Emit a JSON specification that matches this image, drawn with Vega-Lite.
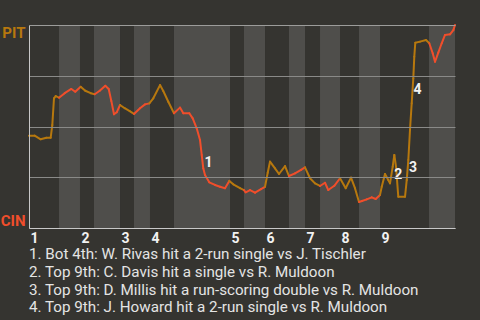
{
  "$schema": "https://vega.github.io/schema/vega-lite/v6.json",
  "width": 426,
  "height": 203,
  "autosize": {"type": "none"},
  "padding": {"left": 29, "top": 25, "right": 25, "bottom": 92},
  "background": "#353430",
  "config": {"view": {"stroke": null}, "font": "Roboto"},
  "title": {
    "text": [
      "1. Bot 4th: W. Rivas hit a 2-run single vs J. Tischler",
      "2. Top 9th: C. Davis hit a single vs R. Muldoon",
      "3. Top 9th: D. Millis hit a run-scoring double vs R. Muldoon",
      "4. Top 9th: J. Howard hit a 2-run single vs R. Muldoon"
    ],
    "orient": "bottom",
    "anchor": "start",
    "frame": "group",
    "align": "left",
    "font": "Roboto",
    "fontSize": 15.2,
    "fontWeight": "normal",
    "color": "#e4e4e4",
    "lineHeight": 17.8,
    "offset": 2
  },
  "layer": [
    {
      "data": {
        "values": [
          {"start": 6.34, "end": 10.77},
          {"start": 13.73, "end": 19.23},
          {"start": 22.18, "end": 25.56},
          {"start": 30.63, "end": 42.47},
          {"start": 45.42, "end": 49.86},
          {"start": 54.93, "end": 58.31},
          {"start": 61.48, "end": 65.71},
          {"start": 69.72, "end": 74.16},
          {"start": 84.51, "end": 90}
        ]
      },
      "mark": {"type": "rect", "color": "#4f4e4b"},
      "encoding": {
        "x": {
          "field": "start",
          "type": "quantitative",
          "scale": {"domain": [0, 90], "nice": false, "zero": false},
          "axis": {
            "title": null,
            "values": [0, 10.77, 19.23, 25.56, 42.47, 49.86, 58.31, 65.71, 74.16],
            "labelExpr": "indexof([0, 10.77, 19.23, 25.56, 42.47, 49.86, 58.31, 65.71, 74.16], datum.value) + 1",
            "labelAlign": "left",
            "labelBaseline": "top",
            "labelFlush": false,
            "labelOffset": 1,
            "labelPadding": 3,
            "labelColor": "#f2f2f2",
            "labelFont": "Roboto",
            "labelFontSize": 14,
            "labelFontWeight": "bold",
            "ticks": false,
            "grid": false,
            "domainColor": "#c8c8c8",
            "domainWidth": 1,
            "zindex": 1
          }
        },
        "x2": {"field": "end"}
      }
    },
    {
      "data": {
        "values": [
          {"x": 0.0, "p": 0.455, "t": "PIT"},
          {"x": 1.2, "p": 0.455, "t": "PIT"},
          {"x": 2.47, "p": 0.437, "t": "PIT"},
          {"x": 3.66, "p": 0.445, "t": "PIT"},
          {"x": 4.58, "p": 0.445, "t": "PIT"},
          {"x": 4.92, "p": 0.507, "t": "PIT"},
          {"x": 5.28, "p": 0.639, "t": "PIT"},
          {"x": 5.64, "p": 0.65, "t": "PIT"},
          {"x": 6.34, "p": 0.642, "t": "PIT"},
          {"x": 7.54, "p": 0.664, "t": "CIN"},
          {"x": 8.94, "p": 0.685, "t": "CIN"},
          {"x": 9.78, "p": 0.671, "t": "CIN"},
          {"x": 10.92, "p": 0.696, "t": "CIN"},
          {"x": 11.89, "p": 0.676, "t": "PIT"},
          {"x": 13.04, "p": 0.664, "t": "PIT"},
          {"x": 13.88, "p": 0.659, "t": "PIT"},
          {"x": 14.94, "p": 0.676, "t": "CIN"},
          {"x": 16.12, "p": 0.701, "t": "CIN"},
          {"x": 16.84, "p": 0.685, "t": "CIN"},
          {"x": 17.39, "p": 0.626, "t": "CIN"},
          {"x": 17.96, "p": 0.56, "t": "CIN"},
          {"x": 18.53, "p": 0.57, "t": "CIN"},
          {"x": 19.23, "p": 0.606, "t": "CIN"},
          {"x": 20.22, "p": 0.59, "t": "PIT"},
          {"x": 21.27, "p": 0.576, "t": "PIT"},
          {"x": 22.18, "p": 0.562, "t": "PIT"},
          {"x": 23.45, "p": 0.59, "t": "CIN"},
          {"x": 24.51, "p": 0.609, "t": "CIN"},
          {"x": 25.42, "p": 0.614, "t": "CIN"},
          {"x": 26.26, "p": 0.639, "t": "PIT"},
          {"x": 27.68, "p": 0.704, "t": "PIT"},
          {"x": 28.37, "p": 0.675, "t": "PIT"},
          {"x": 29.43, "p": 0.622, "t": "PIT"},
          {"x": 30.63, "p": 0.565, "t": "PIT"},
          {"x": 31.9, "p": 0.593, "t": "CIN"},
          {"x": 32.6, "p": 0.565, "t": "CIN"},
          {"x": 33.87, "p": 0.565, "t": "CIN"},
          {"x": 34.59, "p": 0.54, "t": "CIN"},
          {"x": 35.43, "p": 0.491, "t": "CIN"},
          {"x": 36.13, "p": 0.433, "t": "CIN"},
          {"x": 36.49, "p": 0.36, "t": "CIN"},
          {"x": 36.82, "p": 0.294, "t": "CIN"},
          {"x": 37.18, "p": 0.261, "t": "CIN"},
          {"x": 38.09, "p": 0.225, "t": "CIN"},
          {"x": 39.3, "p": 0.212, "t": "CIN"},
          {"x": 40.35, "p": 0.203, "t": "CIN"},
          {"x": 41.41, "p": 0.196, "t": "CIN"},
          {"x": 42.32, "p": 0.232, "t": "CIN"},
          {"x": 43.16, "p": 0.215, "t": "PIT"},
          {"x": 44.58, "p": 0.196, "t": "PIT"},
          {"x": 45.42, "p": 0.187, "t": "PIT"},
          {"x": 45.78, "p": 0.176, "t": "CIN"},
          {"x": 46.69, "p": 0.187, "t": "CIN"},
          {"x": 47.75, "p": 0.174, "t": "CIN"},
          {"x": 49.01, "p": 0.191, "t": "CIN"},
          {"x": 49.86, "p": 0.203, "t": "CIN"},
          {"x": 50.43, "p": 0.272, "t": "PIT"},
          {"x": 50.92, "p": 0.327, "t": "PIT"},
          {"x": 51.97, "p": 0.294, "t": "PIT"},
          {"x": 52.82, "p": 0.266, "t": "PIT"},
          {"x": 54.09, "p": 0.305, "t": "PIT"},
          {"x": 54.93, "p": 0.256, "t": "PIT"},
          {"x": 56.2, "p": 0.269, "t": "CIN"},
          {"x": 57.47, "p": 0.286, "t": "CIN"},
          {"x": 58.31, "p": 0.299, "t": "CIN"},
          {"x": 59.37, "p": 0.245, "t": "PIT"},
          {"x": 60.42, "p": 0.22, "t": "PIT"},
          {"x": 61.48, "p": 0.207, "t": "PIT"},
          {"x": 62.54, "p": 0.223, "t": "CIN"},
          {"x": 63.23, "p": 0.187, "t": "CIN"},
          {"x": 64.5, "p": 0.208, "t": "CIN"},
          {"x": 65.71, "p": 0.245, "t": "CIN"},
          {"x": 66.91, "p": 0.196, "t": "PIT"},
          {"x": 68.03, "p": 0.248, "t": "PIT"},
          {"x": 68.87, "p": 0.196, "t": "PIT"},
          {"x": 69.72, "p": 0.128, "t": "PIT"},
          {"x": 70.35, "p": 0.133, "t": "CIN"},
          {"x": 71.35, "p": 0.141, "t": "CIN"},
          {"x": 72.4, "p": 0.151, "t": "CIN"},
          {"x": 73.25, "p": 0.143, "t": "CIN"},
          {"x": 74.16, "p": 0.163, "t": "CIN"},
          {"x": 74.52, "p": 0.203, "t": "PIT"},
          {"x": 75.21, "p": 0.266, "t": "PIT"},
          {"x": 75.91, "p": 0.236, "t": "PIT"},
          {"x": 76.27, "p": 0.22, "t": "PIT"},
          {"x": 76.84, "p": 0.302, "t": "PIT"},
          {"x": 77.18, "p": 0.36, "t": "PIT"},
          {"x": 77.54, "p": 0.302, "t": "PIT"},
          {"x": 78.02, "p": 0.154, "t": "PIT"},
          {"x": 79.44, "p": 0.154, "t": "PIT"},
          {"x": 79.8, "p": 0.236, "t": "PIT"},
          {"x": 80.14, "p": 0.335, "t": "PIT"},
          {"x": 80.49, "p": 0.483, "t": "PIT"},
          {"x": 80.85, "p": 0.614, "t": "PIT"},
          {"x": 81.19, "p": 0.737, "t": "PIT"},
          {"x": 81.4, "p": 0.844, "t": "PIT"},
          {"x": 81.61, "p": 0.913, "t": "PIT"},
          {"x": 82.61, "p": 0.918, "t": "PIT"},
          {"x": 83.88, "p": 0.926, "t": "PIT"},
          {"x": 84.57, "p": 0.91, "t": "PIT"},
          {"x": 85.29, "p": 0.861, "t": "CIN"},
          {"x": 85.78, "p": 0.819, "t": "CIN"},
          {"x": 86.47, "p": 0.864, "t": "CIN"},
          {"x": 87.19, "p": 0.91, "t": "CIN"},
          {"x": 87.89, "p": 0.951, "t": "CIN"},
          {"x": 88.95, "p": 0.954, "t": "CIN"},
          {"x": 89.65, "p": 0.975, "t": "CIN"},
          {"x": 90.0, "p": 1.0, "t": "CIN"}
        ]
      },
      "transform": [
        {
          "window": [
            {"op": "lead", "field": "x", "as": "xn"},
            {"op": "lead", "field": "p", "as": "pn"},
            {"op": "lead", "field": "t", "as": "tn"}
          ],
          "sort": [{"field": "x", "order": "ascending"}]
        },
        {"filter": "datum.xn != null"}
      ],
      "mark": {"type": "rule", "strokeWidth": 2, "strokeCap": "round"},
      "encoding": {
        "x": {"field": "x", "type": "quantitative"},
        "x2": {"field": "xn"},
        "y": {
          "field": "p",
          "type": "quantitative",
          "scale": {"domain": [0, 1], "nice": false},
          "axis": {
            "title": null,
            "values": [0, 0.25, 0.5, 0.75, 1],
            "labelExpr": "datum.value == 1 ? 'PIT' : datum.value == 0 ? 'CIN' : ''",
            "labelColor": {"condition": {"test": "datum.value == 1", "value": "#b7780e"}, "value": "#f04e2b"},
            "labelBaseline": {"condition": {"test": "datum.value == 1", "value": "top"}, "value": "bottom"},
            "labelFont": "Roboto",
            "labelFontSize": 15,
            "labelFontWeight": "bold",
            "labelPadding": 4,
            "ticks": false,
            "grid": true,
            "gridColor": {"condition": {"test": "datum.value == 1", "value": "#9c9c9a"}, "value": "#8a8a88"},
            "gridWidth": 1,
            "domainColor": "#c8c8c8",
            "domainWidth": 1,
            "zindex": 1
          }
        },
        "y2": {"field": "pn"},
        "color": {
          "field": "tn",
          "type": "nominal",
          "scale": {"domain": ["PIT", "CIN"], "range": ["#b7780e", "#f04e2b"]},
          "legend": null
        }
      }
    },
    {
      "data": {
        "values": [
          {"x": 37.92, "p": 0.32, "label": "1"},
          {"x": 77.99, "p": 0.261, "label": "2"},
          {"x": 81.14, "p": 0.296, "label": "3"},
          {"x": 82.07, "p": 0.68, "label": "4"}
        ]
      },
      "mark": {"type": "text", "font": "Roboto", "fontSize": 14, "fontWeight": "bold", "color": "#f2f2f2", "align": "center", "baseline": "middle"},
      "encoding": {
        "x": {"field": "x", "type": "quantitative"},
        "y": {"field": "p", "type": "quantitative"},
        "text": {"field": "label"}
      }
    }
  ]
}
